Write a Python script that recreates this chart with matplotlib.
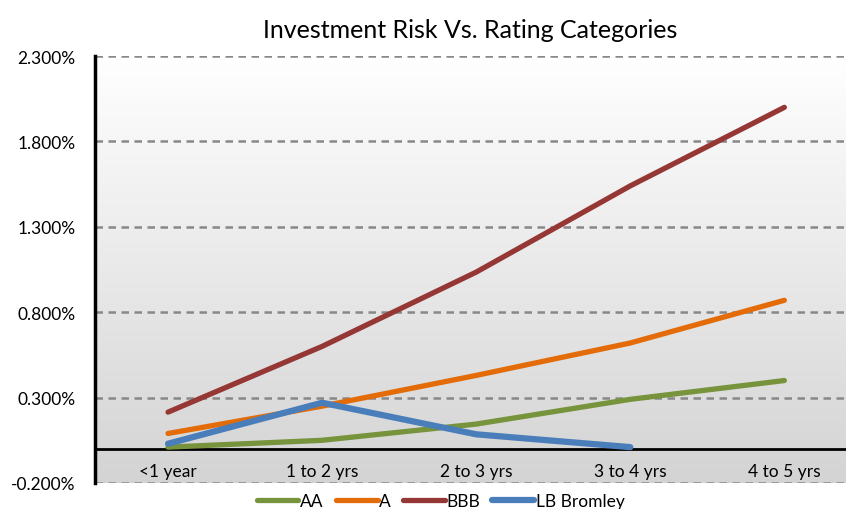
import numpy as np
import matplotlib.pyplot as plt
from matplotlib.ticker import FuncFormatter

plt.rcParams['font.family'] = ['Lato', 'DejaVu Sans']

categories = ['<1 year', '1 to 2 yrs', '2 to 3 yrs', '3 to 4 yrs', '4 to 5 yrs']
aa = [0.01, 0.05, 0.145, 0.29, 0.40]
a = [0.09, 0.25, 0.43, 0.62, 0.87]
bbb = [0.215, 0.60, 1.035, 1.54, 2.0]
lb_bromley = [0.03, 0.27, 0.085, 0.01]
yticks = [-0.2, 0.3, 0.8, 1.3, 1.8, 2.3]

fig = plt.figure(figsize=(8.46, 5.10), dpi=100)
ax = fig.add_axes([0.1123, 0.051, 0.8877, 0.837])

# gradient background
grad = np.linspace(1.0, 0.83, 256).reshape(-1, 1)
ax.imshow(np.dstack([grad, grad, grad]), extent=[0, 1, 0, 1], transform=ax.transAxes,
          aspect='auto', zorder=0)

x = np.arange(len(categories))
ax.plot(x, aa, color='#77933C', lw=3.8, solid_capstyle='round', zorder=3, label='AA')
ax.plot(x, a, color='#E36C09', lw=3.8, solid_capstyle='round', zorder=3, label='A')
ax.plot(x, bbb, color='#953735', lw=3.8, solid_capstyle='round', zorder=3, label='BBB')
ax.plot(x[:len(lb_bromley)], lb_bromley, color='#4A7EBB', lw=4.5, solid_capstyle='round',
        zorder=4, label='LB Bromley')

ax.set_xlim(-0.474, 4.40)
ax.set_ylim(-0.2, 2.3)
ax.set_yticks(yticks)
ax.yaxis.set_major_formatter(FuncFormatter(lambda v, p: '%.3f%%' % v))
for yv in yticks:
    ax.axhline(yv, color='#888888', lw=1.8, ls=(0, (3, 2.2)), zorder=1)

ax.set_xticks(x)
ax.set_xticklabels(categories)
ax.spines['bottom'].set_position(('data', 0))
ax.spines['bottom'].set_linewidth(2)
ax.spines['bottom'].set_zorder(2)
ax.spines['left'].set_linewidth(2.5)
ax.spines['top'].set_visible(False)
ax.spines['right'].set_visible(False)
ax.tick_params(axis='both', length=0, labelsize=12.5, colors='black')
ax.tick_params(axis='x', pad=10)
ax.tick_params(axis='y', pad=14)

ax.set_title('Investment Risk Vs. Rating Categories', fontsize=18, pad=14)
fig.legend(loc='lower center', bbox_to_anchor=(0.521, -0.03), ncol=4, frameon=False,
           fontsize=12.5, handlelength=2.4, handletextpad=0.1, columnspacing=0.7)

fig.savefig('out.png', dpi=100)
